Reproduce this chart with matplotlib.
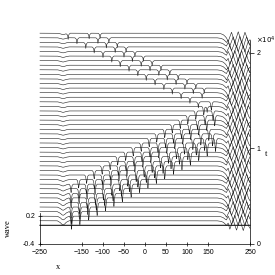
import numpy as np
import matplotlib
matplotlib.use("Agg")
import matplotlib.pyplot as plt

# ---- data ----
n_traces = 43
x_ticks = [-250, -150, -100, -50, 0, 50, 100, 150, 250]
wave_ticks = [-0.4, 0.2]
t_ticks = [0, 10000, 20000]
t_labels = ["0", "1", "2"]

# small dip that stays at x = -195 in every trace
dip_center = -195
dip_depth = [0.0, 0.09, 0.08, 0.08, 0.07, 0.07, 0.06, 0.05, 0.05, 0.04,
             0.04, 0.035, 0.035, 0.03, 0.03, 0.03, 0.03, 0.03, 0.03, 0.03,
             0.03, 0.03, 0.03, 0.03, 0.03, 0.03, 0.03, 0.03, 0.03, 0.03,
             0.03, 0.03, 0.03, 0.03, 0.03, 0.03, 0.03, 0.03, 0.03, 0.03,
             0.03, 0.03, 0.03]

# pulses running right (lower band): first trace, depth, x in each trace
low_start = [2, 3, 4, 6, 7, 9]
low_depth = [0.28, 0.26, 0.24, 0.22, 0.20, 0.18]
low_1 = [-175, -155, -134, -114, -94, -74, -54, -33, -13, 7, 27, 47, 68, 88, 108, 128, 148, 168]
low_2 = [-175, -155, -136, -116, -96, -76, -56, -37, -17, 3, 23, 43, 62, 82, 102, 122, 142, 161]
low_3 = [-176, -156, -137, -118, -99, -79, -60, -41, -21, -2, 17, 37, 56, 75, 94, 114, 133, 152]
low_4 = [-176, -157, -138, -119, -100, -81, -62, -43, -24, -5, 14, 33, 52, 71, 90, 109, 128, 147, 166]
low_5 = [-176, -157, -139, -120, -101, -82, -63, -45, -26, -7, 12, 31, 49, 68, 87, 106, 125, 143, 162]
low_6 = [-176, -158, -139, -121, -102, -83, -65, -46, -28, -9, 10, 28, 47, 65, 84, 102, 121, 140, 158]

# pulses running back left (upper band)
up_start = [26, 29, 30]
up_depth = [0.13, 0.12, 0.11]
up_1 = [148, 127, 107, 86, 65, 45, 24, 3, -17, -38, -59, -79, -100, -121, -141, -162, -183]
up_2 = [136, 115, 95, 74, 53, 33, 12, -9, -30, -50, -71, -92, -112, -133]
up_3 = [141, 121, 100, 79, 59, 38, 17, -4, -24, -45, -66, -86, -107]

# pulse shapes
dip_dx = [-14, -7, -3, 0, 3, 7, 14]
dip_shape = [0, -0.4, -0.85, -1, -0.85, -0.4, 0]
spike_dx = [-5, -2.5, -1, 0, 1, 2.5, 5]
spike_shape = [0, -0.15, -0.6, -1, -0.6, -0.15, 0]
y_dx = [-5, -2.5, -1, -0.4, 0, 0.4, 1, 2.5, 5]
y_shape = [0, -0.15, -0.35, -0.8, -1, -0.8, -0.35, -0.15, 0]

# busy zone at the right wall, four phases
edge_x = [170, 180, 186, 190, 194, 198, 202, 206, 210, 214, 218, 222, 226, 230, 234, 238, 242, 246, 250]
edge_a = [0, -0.01, -0.03, -0.06, -0.10, -0.18, -0.08, 0.02, -0.10, -0.20, -0.08, 0.03, -0.08, -0.21, -0.10, 0.02, -0.08, -0.18, -0.14]
edge_b = [0, -0.01, -0.03, -0.06, -0.10, -0.05, -0.18, -0.08, 0.02, -0.10, -0.20, -0.07, 0.03, -0.10, -0.21, -0.08, 0.02, -0.10, -0.16]
edge_c = [0, -0.01, -0.03, -0.06, -0.08, 0.00, -0.07, -0.18, -0.09, 0.02, -0.10, -0.20, -0.08, 0.02, -0.10, -0.21, -0.08, 0.02, -0.06]
edge_d = [0, -0.01, -0.03, -0.06, -0.12, -0.04, 0.02, -0.07, -0.19, -0.08, 0.03, -0.10, -0.20, -0.07, 0.02, -0.10, -0.20, -0.08, 0.00]
edge_order = [0, 1, 2, 3, 2, 1]

# ---- build the traces ----
trace_step = 0.098
x = np.linspace(-250, 250, 2001)
traces = [np.zeros_like(x) for _ in range(n_traces)]

for i in range(1, n_traces):
    traces[i] += dip_depth[i] * np.interp(x - dip_center, dip_dx, dip_shape)

for start, depth, track in zip(low_start, low_depth, [low_1, low_2, low_3, low_4, low_5, low_6]):
    for k, xc in enumerate(track):
        traces[start + k] += depth * np.interp(x - xc, spike_dx, spike_shape)

for start, depth, track in zip(up_start, up_depth, [up_1, up_2, up_3]):
    for k, xc in enumerate(track):
        traces[start + k] += depth * np.interp(x - xc, y_dx, y_shape)

edges = [edge_a, edge_b, edge_c, edge_d]
for i in range(1, n_traces):
    traces[i] += np.interp(x, edge_x, edges[edge_order[i % len(edge_order)]])

# ---- plot ----
plt.rcParams["font.family"] = ["Liberation Sans", "DejaVu Sans"]
fig = plt.figure(figsize=(2.75, 2.75), dpi=100)
ax = fig.add_axes([40 / 275, 31 / 275, 210 / 275, 204 / 275])

for i, w in enumerate(traces):
    lw = 0.8 if i == 0 else 0.4
    ax.plot(x, w + i * trace_step, color="#1a1a1a", lw=lw, clip_on=False)

ax.set_xlim(-250, 250)
ax.set_ylim(-0.4, 3.97)
ax.set_xticks(x_ticks)
ax.set_yticks(wave_ticks)
ax.set_yticklabels(["0.2" if v > 0 else "-0.4" for v in wave_ticks])
ax.tick_params(labelsize=5, length=3, width=0.5, direction="inout", pad=2)
ax.spines["top"].set_visible(False)
ax.spines["right"].set_visible(False)
ax.spines["left"].set_bounds(-0.4, 0.27)
for s in ["left", "bottom"]:
    ax.spines[s].set_linewidth(0.5)

ax2 = ax.twinx()
ax2.set_ylim(0, 21360)
ax2.set_yticks(t_ticks)
ax2.set_yticklabels(t_labels)
ax2.tick_params(labelsize=5, length=3, width=0.5, direction="out", pad=2)
for s in ["left", "top", "bottom"]:
    ax2.spines[s].set_visible(False)
ax2.spines["right"].set_linewidth(0.5)

fig.text(256 / 275, 1 - 40 / 275, r"$\times10^4$", fontsize=5, ha="left", va="center")
fig.text(8 / 275, 1 - 228 / 275, "wave", family="Liberation Serif", fontsize=6,
         rotation=90, ha="center", va="center")
fig.text(58 / 275, 1 - 267 / 275, "x", family="Liberation Serif", fontsize=6,
         ha="center", va="center")
fig.text(266 / 275, 1 - 154 / 275, "t", family="Liberation Serif", fontsize=6,
         ha="center", va="center")

fig.savefig("out.png", dpi=100)
